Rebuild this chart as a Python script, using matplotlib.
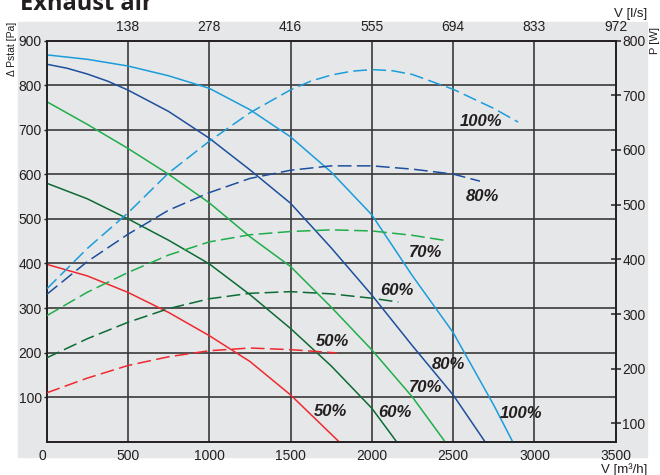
import matplotlib
matplotlib.use('Agg')
import matplotlib.pyplot as plt
from matplotlib.patches import Rectangle

plt.rcParams['font.family'] = ['Liberation Sans', 'DejaVu Sans']

# pressure curves, V [m3/h] -> dPstat [Pa]
q100 = [0, 250, 500, 750, 1000, 1250, 1500, 1750, 2000, 2250, 2500, 2750, 2866]
p100 = [868, 858, 843, 821, 793, 745, 684, 605, 509, 372, 245, 82, 0]
q80 = [0, 125, 250, 375, 500, 750, 1000, 1250, 1500, 1750, 2000, 2250, 2500, 2696]
p80 = [847, 838, 825, 809, 789, 741, 681, 610, 535, 435, 329, 215, 105, 0]
q70 = [0, 250, 500, 750, 1000, 1250, 1500, 1750, 2000, 2250, 2450]
p70 = [763, 712, 658, 600, 536, 460, 393, 302, 206, 100, 0]
q60 = [0, 250, 500, 750, 1000, 1250, 1500, 1750, 2000, 2152]
p60 = [580, 545, 500, 452, 399, 330, 254, 170, 75, 0]
q50 = [0, 250, 500, 750, 1000, 1250, 1500, 1798]
p50 = [398, 372, 335, 290, 238, 180, 105, 0]

# power curves, V [m3/h] -> P [W]
wq100 = [0, 250, 500, 750, 1000, 1250, 1500, 1625, 1750, 1875, 2000, 2125, 2250, 2500, 2750, 2900]
w100 = [346, 420, 485, 558, 616, 668, 710, 726, 737, 744, 747, 745, 738, 711, 676, 651]
wq80 = [0, 250, 500, 750, 1000, 1250, 1500, 1750, 2000, 2250, 2500, 2665]
w80 = [336, 396, 446, 490, 522, 548, 563, 571, 571, 565, 556, 543]
wq70 = [0, 250, 500, 750, 1000, 1250, 1500, 1750, 2000, 2250, 2464]
w70 = [297, 340, 376, 408, 432, 445, 451, 454, 452, 444, 434]
wq60 = [0, 250, 500, 750, 1000, 1250, 1500, 1750, 2000, 2163]
w60 = [220, 255, 285, 310, 328, 338, 341, 337, 329, 322]
wq50 = [0, 250, 500, 750, 1000, 1250, 1500, 1784]
w50 = [156, 183, 206, 222, 233, 238, 235, 229]

speeds = ['100%', '80%', '70%', '60%', '50%']
colors = ['#1b9ddb', '#1d4f9e', '#1fae4b', '#0c6b35', '#ee2a2f']

# label positions (V, Pa)
lab_p = [(2920, 64), (2471, 174), (2332, 122), (2140, 66), (1745, 67)]
lab_w = [(2674, 718), (2683, 550), (2332, 425), (2152, 339), (1758, 224)]

x_ticks = [0, 500, 1000, 1500, 2000, 2500, 3000, 3500]
top_labels = ['138', '278', '416', '555', '694', '833', '972']
pa_ticks = [100, 200, 300, 400, 500, 600, 700, 800, 900]
w_ticks = [100, 200, 300, 400, 500, 600, 700, 800]

bg = '#e6e7e8'
dark = '#231f20'

fig = plt.figure(figsize=(6.6, 4.75), dpi=100)
fig.patches.append(Rectangle((18 / 660, 1 - 457 / 475), 629 / 660, 435 / 475,
                             transform=fig.transFigure, color=bg, zorder=-1))
ax = fig.add_axes([46.7 / 660, 1 - 441.7 / 475, 569 / 660, 401.1 / 475])
ax.set_facecolor(bg)
ax.set_xlim(0, 3500)
ax.set_ylim(0, 900)
ax.set_xticks(x_ticks)
ax.set_yticks(pa_ticks)
ax.tick_params(axis='x', length=0, labelsize=10, colors=dark, pad=5)
ax.tick_params(axis='y', length=2.5, width=1, labelsize=10, colors=dark, pad=1)
ax.get_xticklabels()[0].set_ha('right')
for v in x_ticks[1:-1]:
    ax.axvline(v, color='#3a3a3a', lw=1.2, zorder=1)
for v in pa_ticks[:-1]:
    ax.axhline(v, color='#3a3a3a', lw=1.2, zorder=1)
for s in ax.spines.values():
    s.set_color(dark)
    s.set_linewidth(1.2)

top = ax.secondary_xaxis('top')
top.set_xticks(x_ticks[1:], top_labels)
top.tick_params(length=0, labelsize=10, colors=dark, pad=5)
top.spines['top'].set_visible(False)

ax2 = ax.twinx()
ax2.set_ylim(66.7, 800)
ax2.set_yticks(w_ticks)
ax2.tick_params(axis='y', direction='inout', length=6.5, width=1.1, pad=1.5,
                labelsize=10, colors=dark)
for s in ax2.spines.values():
    s.set_color(dark)
    s.set_linewidth(1.2)

pq = [(q100, p100), (q80, p80), (q70, p70), (q60, p60), (q50, p50)]
wq = [(wq100, w100), (wq80, w80), (wq70, w70), (wq60, w60), (wq50, w50)]
for i in range(5):
    ax.plot(pq[i][0], pq[i][1], color=colors[i], lw=1.1, zorder=3)
    ax2.plot(wq[i][0], wq[i][1], color=colors[i], lw=1.1,
             linestyle=(0, (9, 3.5)), zorder=3)
    for x, y in (lab_p[i], lab_w[i]):
        ax.text(x, y, speeds[i], ha='center', va='center', fontsize=12,
                fontweight='bold', fontstyle='italic', color=dark, zorder=5)

fig.text(20 / 660, 1 - 10 / 475, 'Exhaust air', fontsize=17, fontweight='bold',
         family=['Open Sans', 'DejaVu Sans'], color=dark, va='baseline')
fig.text(11.7 / 660, 1 - 22 / 475, 'Δ Pstat [Pa]', rotation=90, fontsize=7.5,
         ha='center', va='top', color=dark)
fig.text(655 / 660, 1 - 27 / 475, 'P [W]', rotation=90, fontsize=8,
         ha='center', va='top', color=dark)
fig.text(647 / 660, 1 - 14 / 475, 'V [l/s]', fontsize=9.5, ha='right',
         va='center', color=dark)
fig.text(647 / 660, 1 - 470 / 475, 'V [m³/h]', fontsize=9.5, ha='right',
         va='center', color=dark)

fig.savefig('out.png', dpi=100, facecolor='white')
